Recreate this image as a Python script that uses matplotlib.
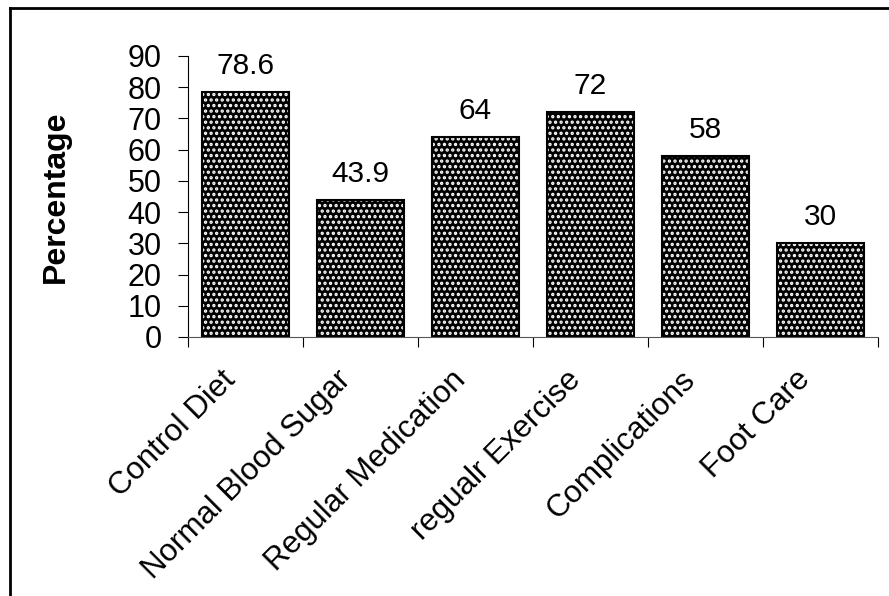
import numpy as np
import matplotlib
matplotlib.use('Agg')
import matplotlib.pyplot as plt
import matplotlib.transforms as mtransforms
from matplotlib.lines import Line2D

# data
categories = ['Control Diet', 'Normal Blood Sugar', 'Regular Medication',
              'regualr Exercise', 'Complications', 'Foot Care']
values = [78.6, 43.9, 64, 72, 58, 30]
value_labels = ['78.6', '43.9', '64', '72', '58', '30']

plt.rcParams['font.family'] = ['Liberation Sans', 'DejaVu Sans']
plt.rcParams['hatch.linewidth'] = 1.6

fig = plt.figure(figsize=(8.89, 5.96), dpi=100)
ax = fig.add_axes([0.2115, 0.4346, 0.7761, 0.4715])

x = np.arange(len(categories))
# black bars with white dots, then black outline on top
ax.bar(x, values, width=0.75, color='black', edgecolor='white',
       hatch='...', linewidth=0)
ax.bar(x, values, width=0.75, fill=False, edgecolor='black', linewidth=1.5)

for xi, v, lab in zip(x, values, value_labels):
    ax.annotate(lab, (xi, v), xytext=(0, 13), textcoords='offset points',
                ha='center', va='baseline', fontsize=21.5)

ax.set_xlim(-0.5, len(categories) - 0.5)
ax.set_ylim(0, 90)
ax.set_yticks(np.arange(0, 91, 10))
ax.tick_params(axis='y', labelsize=22, length=7, width=0.8, pad=12)

# ticks between categories, labels at centres
ax.set_xticks(np.arange(-0.5, len(categories), 1))
ax.set_xticklabels([])
ax.set_xticks(x, minor=True)
ax.set_xticklabels(categories, minor=True, rotation=45, ha='right',
                   rotation_mode='anchor', fontsize=22.5)
ax.tick_params(axis='x', which='major', length=7, width=0.8)
ax.tick_params(axis='x', which='minor', length=0, pad=20)
offset = mtransforms.ScaledTranslation(-0.25, 0, fig.dpi_scale_trans)
for lbl in ax.get_xticklabels(minor=True):
    lbl.set_transform(lbl.get_transform() + offset)

for s in ['top', 'right']:
    ax.spines[s].set_visible(False)
ax.spines['left'].set_linewidth(0.8)
ax.spines['bottom'].set_linewidth(0.8)
ax.spines['bottom'].set_color('#555555')

ax.set_ylabel('Percentage', fontsize=23, fontweight='bold')
ax.yaxis.set_label_coords(-0.17, 0.5)

# frame lines (left and top only)
fig.add_artist(Line2D([0.0112, 0.0112], [0, 0.9866], color='black', lw=2))
fig.add_artist(Line2D([0.0112, 1], [0.9866, 0.9866], color='black', lw=2))

fig.savefig('out.png', dpi=100)
